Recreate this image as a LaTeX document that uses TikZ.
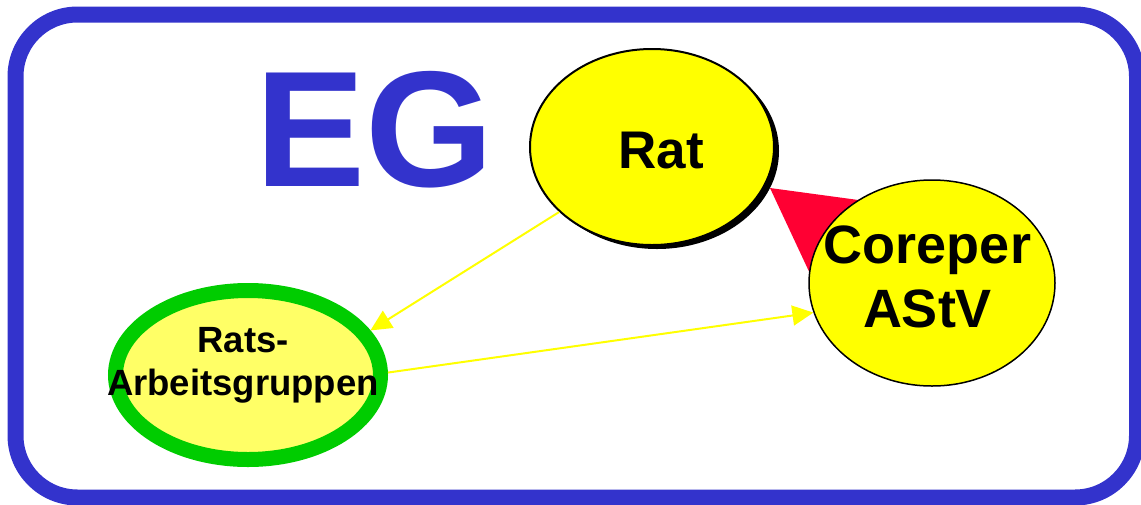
\documentclass[tikz,border=0pt]{standalone}
\usepackage{fontspec}
\setmainfont{Liberation Sans}
\usetikzlibrary{shapes.geometric,shadows,arrows.meta}
\definecolor{egblue}{HTML}{3333CC}
\definecolor{egred}{HTML}{FF0033}
\definecolor{egyellow}{HTML}{FFFF00}
\definecolor{eglight}{HTML}{FFFF66}
\definecolor{eggreen}{HTML}{00CC00}
\tikzset{
  bubble/.style={ellipse, draw=black, fill=egyellow, inner sep=0pt},
  lbl/.style={font=\bfseries, text=black, inner sep=0pt},
  flow/.style={draw=egyellow, line width=2pt, -{Triangle[length=21pt,width=20pt]}},
}
\begin{document}
\begin{tikzpicture}[x=1pt,y=-1pt]
\useasboundingbox (0,0) rectangle (1141,504);
% frame
\draw[egblue, line width=16pt, rounded corners=62pt] (15.5,14.5) rectangle (1137,497.5);
% title
\node[font=\bfseries\fontsize{165}{165}\selectfont, text=egblue, inner sep=0pt, anchor=base] (eg) at (375,186) {EG};
% red wedge (behind Coreper)
\fill[egred] (770,188) -- (932,210) -- (841,340) -- cycle;
% nodes
\node[bubble, line width=2pt, minimum width=244pt, minimum height=196pt,
      general shadow={fill=black, shadow xshift=5pt, shadow yshift=-4pt}] (rat) at (652,147) {};
\node[bubble, line width=1.5pt, minimum width=246pt, minimum height=206pt] (cor) at (932,283) {};
\node[ellipse, draw=eggreen, fill=eglight, line width=15pt, inner sep=0pt,
      minimum width=265pt, minimum height=169pt] (rag) at (248,375) {};
% texts
\node[lbl, font=\bfseries\fontsize{53}{53}\selectfont, anchor=base] (rattext) at (661,168) {Rat};
\node[lbl, font=\bfseries\fontsize{54}{54}\selectfont, anchor=base] (cortext1) at (927.5,263) {Coreper};
\node[lbl, font=\bfseries\fontsize{54}{54}\selectfont, anchor=base] (cortext2) at (927.5,327) {AStV};
\node[lbl, font=\bfseries\fontsize{36.5}{36.5}\selectfont, anchor=base] (ragtext1) at (243,352) {Rats-};
\node[lbl, font=\bfseries\fontsize{36.5}{36.5}\selectfont, anchor=base] (ragtext2) at (243,395) {Arbeitsgruppen};
% connectors
\draw[flow] (rat.215.7) -- (rag.20.3);
\draw[flow] (rag.1.6) -- (cor.194.4);
\end{tikzpicture}
\end{document}
